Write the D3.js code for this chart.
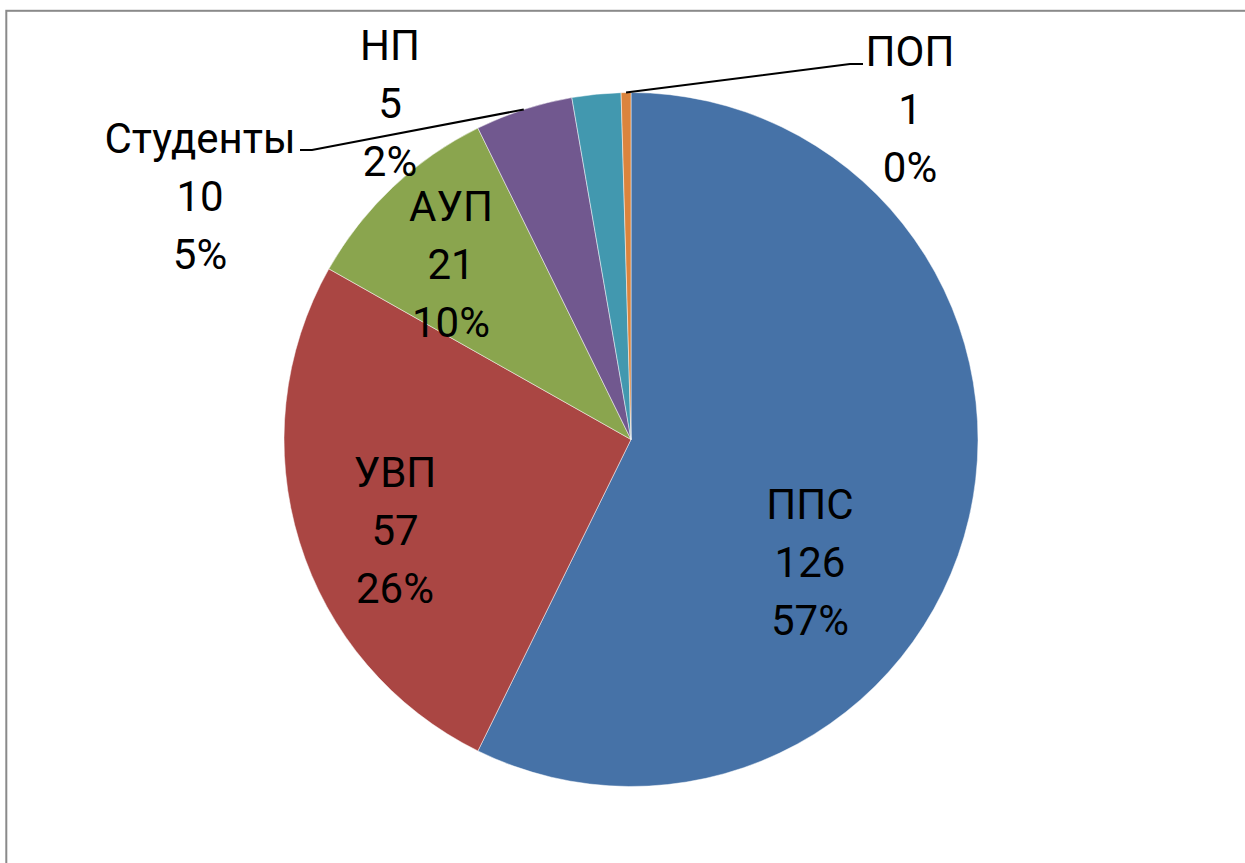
<!DOCTYPE html>
<html>
<head>
<meta charset="utf-8">
<script src="https://cdn.jsdelivr.net/npm/d3@7"></script>
<style>
  html, body { margin: 0; padding: 0; background: #fff; }
  svg { display: block; }
</style>
</head>
<body>
<div id="chart"></div>
<script>
// Chart data
const categories = ["ППС", "УВП", "АУП", "Студенты", "НП", "ПОП"];
const values = [126, 57, 21, 10, 5, 1];
const colours = ["#4672a7", "#aa4643", "#8aa54e", "#71588f", "#4298af", "#db843d"];

// Label layout: centre x and baseline of the first line
const labelLayout = {
  "ППС": { x: 810, y: 519 },
  "УВП": { x: 395, y: 487 },
  "АУП": { x: 451, y: 221 },
  "Студенты": { x: 200, y: 153 },
  "НП": { x: 390, y: 60 },
  "ПОП": { x: 910, y: 66 },
};

// Leader lines: elbow x and end point (only for labels outside the pie)
const leaderLayout = {
  "Студенты": { elbowX: 312, endX: 300, y: 150 },
  "ПОП": { elbowX: 850, endX: 863, y: 64 },
};

const width = 1245;
const height = 863;
const cx = 631;
const cy = 439.5;
const radius = 347;
const fontSize = 42;
const lineStep = 58;

const svg = d3
  .select("#chart")
  .append("svg")
  .attr("width", width)
  .attr("height", height);

// Chart area border (right and bottom run off the picture)
svg
  .append("rect")
  .attr("x", 6.3)
  .attr("y", 10.8)
  .attr("width", 1400)
  .attr("height", 1000)
  .attr("fill", "none")
  .attr("stroke", "#8a8a8a")
  .attr("stroke-width", 2);

const total = d3.sum(values);
const data = categories.map((c, i) => ({ name: c, value: values[i], colour: colours[i] }));

// Excel draws clockwise from 12 o'clock in series order
const pie = d3.pie().value((d) => d.value).sort(null);
const arcs = pie(data);

const arc = d3.arc().innerRadius(0).outerRadius(radius);

const g = svg.append("g").attr("transform", `translate(${cx}, ${cy})`);

g.selectAll("path.slice")
  .data(arcs)
  .enter()
  .append("path")
  .attr("class", "slice")
  .attr("d", arc)
  .attr("fill", (d) => d.data.colour)
  .attr("stroke", "#ffffff")
  .attr("stroke-opacity", 0.6)
  .attr("stroke-width", 0.8);

// Leader lines from the middle of the slice's outer edge
const leaders = arcs.filter((d) => leaderLayout[d.data.name]);
svg
  .selectAll("path.leader")
  .data(leaders)
  .enter()
  .append("path")
  .attr("class", "leader")
  .attr("fill", "none")
  .attr("stroke", "#000")
  .attr("stroke-width", 2)
  .attr("d", (d) => {
    const mid = (d.startAngle + d.endAngle) / 2;
    const x0 = cx + radius * Math.sin(mid);
    const y0 = cy - radius * Math.cos(mid);
    const l = leaderLayout[d.data.name];
    return d3.line()([[x0, y0], [l.elbowX, l.y], [l.endX, l.y]]);
  });

// Data labels: category, value, percentage
const fmtPct = (v) => Math.round((v / total) * 100) + "%";

const labels = svg
  .selectAll("text.label")
  .data(arcs)
  .enter()
  .append("text")
  .attr("class", "label")
  .attr("text-anchor", "middle")
  .attr("font-family", "Roboto, sans-serif")
  .attr("font-size", fontSize)
  .attr("fill", "#000");

labels.each(function (d) {
  const pos = labelLayout[d.data.name];
  const lines = [d.data.name, String(d.data.value), fmtPct(d.data.value)];
  d3.select(this)
    .selectAll("tspan")
    .data(lines)
    .enter()
    .append("tspan")
    .attr("x", pos.x)
    .attr("y", (t, i) => pos.y + i * lineStep)
    .text((t) => t);
});
</script>
</body>
</html>
